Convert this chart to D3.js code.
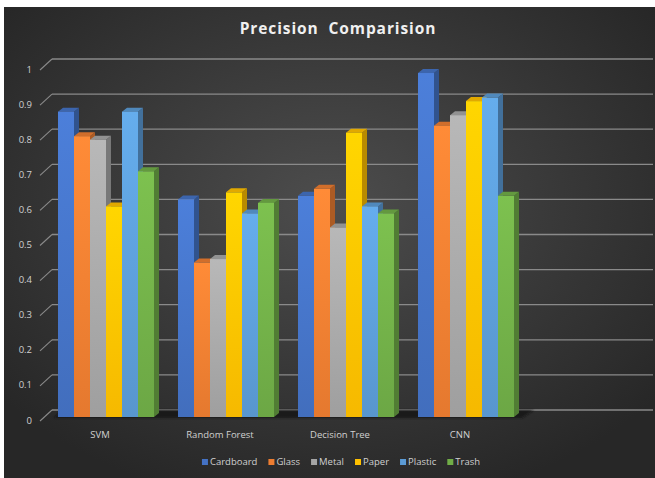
<!DOCTYPE html>
<html>
<head>
<meta charset="utf-8">
<script src="https://cdn.jsdelivr.net/npm/d3@7"></script>
<style>
  html, body { margin: 0; padding: 0; background: #ffffff; }
  svg { display: block; }
</style>
</head>
<body>
<svg id="chart" width="655" height="478"></svg>
<script>
// Categories (classifiers) and one value list per material class
const categories = ["SVM", "Random Forest", "Decision Tree", "CNN"];
const seriesNames = ["Cardboard", "Glass", "Metal", "Paper", "Plastic", "Trash"];
const cardboard = [0.87, 0.62, 0.63, 0.98];
const glass     = [0.80, 0.44, 0.65, 0.83];
const metal     = [0.79, 0.45, 0.54, 0.86];
const paper     = [0.60, 0.64, 0.81, 0.90];
const plastic   = [0.87, 0.58, 0.60, 0.91];
const trash     = [0.70, 0.61, 0.58, 0.63];
const yTicks = [0, 0.1, 0.2, 0.3, 0.4, 0.5, 0.6, 0.7, 0.8, 0.9, 1];
const seriesColors = ["#4472C4", "#ED7D31", "#A5A5A5", "#FFC000", "#5B9BD5", "#70AD47"];
const chartTitle = "Precision  Comparision";

const series = [cardboard, glass, metal, paper, plastic, trash];

const svg = d3.select("#chart");
const W = 655, H = 478;
const defs = svg.append("defs");

// Dark panel with a soft radial light in the middle
const bg = defs.append("radialGradient").attr("id", "bg")
  .attr("cx", "50%").attr("cy", "42%").attr("r", "65%");
bg.append("stop").attr("offset", "0%").attr("stop-color", "#4d4d4d");
bg.append("stop").attr("offset", "100%").attr("stop-color", "#272727");
svg.append("rect").attr("x", 4).attr("y", 7).attr("width", W - 4).attr("height", H - 7)
  .attr("fill", "url(#bg)");

// Oblique 3D offsets: front plane -> back wall, front plane -> bar faces, bar thickness
const wall = { dx: 12, dy: -11 };
const barShift = { dx: 6, dy: -4 };
const depth = { dx: 5, dy: -4 };

const y = d3.scaleLinear().domain([0, 1]).range([421, 70]);
const x = d3.scaleBand().domain(categories).range([40, 520]).paddingInner(0).paddingOuter(0);
const xs = d3.scaleBand().domain(seriesNames).range([0, x.bandwidth()]).paddingInner(0).paddingOuter(0.75);
const wallRight = 653;

// Back wall gridlines and the slanted tick connectors on the left
const grid = svg.append("g");
yTicks.forEach(t => {
  const fy = y(t);
  grid.append("line")
    .attr("x1", 40 + wall.dx).attr("x2", wallRight)
    .attr("y1", fy + wall.dy).attr("y2", fy + wall.dy)
    .attr("stroke", "#8a8a8a").attr("stroke-width", 1.3);
  grid.append("line")
    .attr("x1", 40).attr("y1", fy)
    .attr("x2", 40 + wall.dx).attr("y2", fy + wall.dy)
    .attr("stroke", "#8a8a8a").attr("stroke-width", 1.1);
});

// Y tick labels
svg.append("g").selectAll("text").data(yTicks).join("text")
  .attr("x", 32).attr("y", d => y(d))
  .attr("text-anchor", "end").attr("dominant-baseline", "middle")
  .attr("font-family", "'Open Sans', sans-serif").attr("font-size", 9.5)
  .attr("fill", "#d0d0d0")
  .text(d => d3.format("")(d));

// Floor shadow beneath the bar groups
const blur = defs.append("filter").attr("id", "soft").attr("x", "-10%").attr("y", "-50%")
  .attr("width", "120%").attr("height", "200%");
blur.append("feGaussianBlur").attr("stdDeviation", 1.2);
const fx0 = x(categories[0]) + xs(seriesNames[0]) + barShift.dx - 4;
const fx1 = x(categories[categories.length - 1]) + xs(seriesNames[seriesNames.length - 1]) + xs.bandwidth() + barShift.dx + 8;
const fyFront = y(0) + barShift.dy + 1;
svg.append("path")
  .attr("d", `M${fx0},${fyFront} L${fx1},${fyFront} L${fx1 + wall.dx},${y(0) + wall.dy} L${fx0 + wall.dx - 4},${y(0) + wall.dy} Z`)
  .attr("fill", "#161616").attr("opacity", 0.85).attr("filter", "url(#soft)");

// Per-series gradients for the bar fronts
seriesColors.forEach((c, i) => {
  const g = defs.append("linearGradient").attr("id", "grad" + i)
    .attr("x1", 0).attr("y1", 0).attr("x2", 0).attr("y2", 1);
  g.append("stop").attr("offset", "0%").attr("stop-color", d3.color(c).brighter(0.3));
  g.append("stop").attr("offset", "100%").attr("stop-color", d3.color(c).darker(0.1));
});

// Bars: drawn group by group, left to right, each as side + top + front faces
const bars = svg.append("g");
categories.forEach((cat, ci) => {
  seriesNames.forEach((name, si) => {
    const v = series[si][ci];
    const x0 = x(cat) + xs(name) + barShift.dx;
    const x1 = x0 + xs.bandwidth();
    const yb = y(0) + barShift.dy;
    const yt = y(v) + barShift.dy;
    const c = d3.color(seriesColors[si]);
    const g = bars.append("g");
    g.append("path")
      .attr("d", `M${x1},${yb} L${x1 + depth.dx},${yb + depth.dy} L${x1 + depth.dx},${yt + depth.dy} L${x1},${yt} Z`)
      .attr("fill", c.darker(0.9));
    g.append("path")
      .attr("d", `M${x0},${yt} L${x0 + depth.dx},${yt + depth.dy} L${x1 + depth.dx},${yt + depth.dy} L${x1},${yt} Z`)
      .attr("fill", c.darker(0.35));
    g.append("rect")
      .attr("x", x0).attr("y", yt).attr("width", xs.bandwidth()).attr("height", yb - yt)
      .attr("fill", `url(#grad${si})`);
  });
});

// Category labels
svg.append("g").selectAll("text").data(categories).join("text")
  .attr("x", d => x(d) + x.bandwidth() / 2).attr("y", 435)
  .attr("text-anchor", "middle").attr("dominant-baseline", "middle")
  .attr("font-family", "'Open Sans', sans-serif").attr("font-size", 9.5)
  .attr("fill", "#d0d0d0")
  .text(d => d);

// Title
svg.append("text")
  .attr("x", 338).attr("y", 30)
  .attr("text-anchor", "middle").attr("dominant-baseline", "middle")
  .attr("font-family", "'Open Sans', sans-serif").attr("font-size", 15.5)
  .attr("font-weight", "bold").attr("letter-spacing", 0.9)
  .attr("fill", "#f0f0f0").attr("xml:space", "preserve")
  .style("white-space", "pre")
  .text(chartTitle);

// Legend, laid out from measured text widths and centred below the plot
const legend = svg.append("g");
const items = [];
let cursor = 0;
seriesNames.forEach((name, i) => {
  const g = legend.append("g");
  g.append("rect").attr("x", 0).attr("y", -3).attr("width", 6).attr("height", 6)
    .attr("fill", seriesColors[i]);
  const t = g.append("text").attr("x", 8).attr("y", 0)
    .attr("dominant-baseline", "middle")
    .attr("font-family", "'Open Sans', sans-serif").attr("font-size", 9.5)
    .attr("fill", "#d0d0d0").text(name);
  const w = 8 + t.node().getComputedTextLength();
  items.push({ g, x: cursor });
  cursor += w + 11;
});
const legendWidth = cursor - 11;
const lx = 341 - legendWidth / 2;
items.forEach(it => it.g.attr("transform", `translate(${lx + it.x},462)`));
</script>
</body>
</html>
